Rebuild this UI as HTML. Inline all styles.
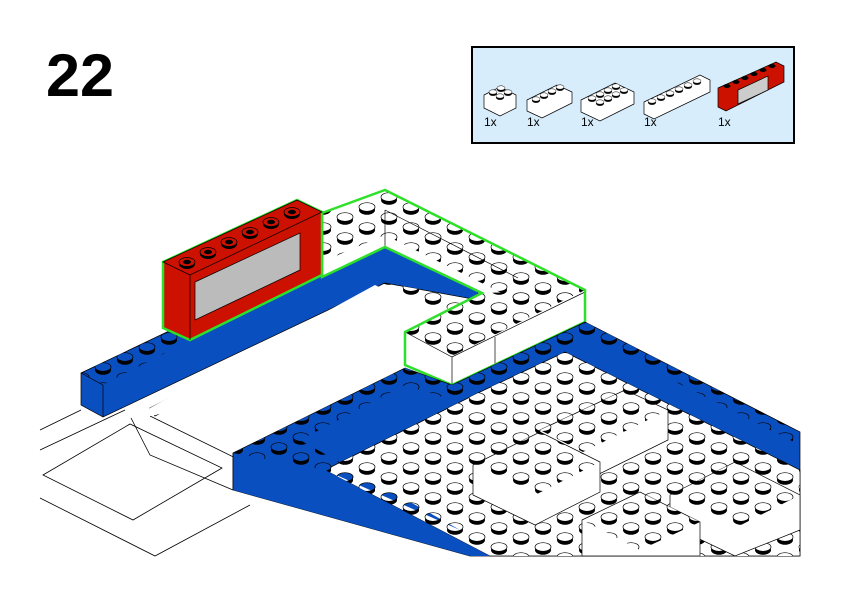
<!DOCTYPE html>
<html><head><style>
html,body{margin:0;padding:0;background:#fff;}
svg{display:block;}
</style></head><body>
<svg width="842" height="596" viewBox="0 0 842 596" xmlns="http://www.w3.org/2000/svg" font-family="Liberation Sans, sans-serif">
<defs>
<pattern id="sw" patternUnits="userSpaceOnUse" width="44" height="20" x="4" y="2">
  <g id="st"><ellipse cx="11" cy="8" rx="8" ry="4.8" fill="#000"/><ellipse cx="11" cy="5" rx="8" ry="4.3" fill="#fff" stroke="#000" stroke-width="0.7"/></g>
  <use href="#st" x="22" y="10"/><use href="#st" x="22" y="-10"/><use href="#st" x="-22" y="10"/><use href="#st" x="-22" y="-10"/>
</pattern>
<pattern id="sb" patternUnits="userSpaceOnUse" width="44" height="20" x="4" y="2">
  <g id="bt"><ellipse cx="11" cy="8" rx="8" ry="4.8" fill="#000"/><ellipse cx="11" cy="5" rx="8" ry="4.3" fill="#0a4fbf" stroke="#000" stroke-width="0.7"/></g>
  <use href="#bt" x="22" y="10"/><use href="#bt" x="22" y="-10"/><use href="#bt" x="-22" y="10"/><use href="#bt" x="-22" y="-10"/>
</pattern>
<g id="ms"><ellipse cx="0" cy="1.5" rx="4" ry="2.4" fill="#000"/><ellipse cx="0" cy="0" rx="4" ry="2.2" fill="#fff" stroke="#000" stroke-width="0.5"/></g>
<g id="rs"><ellipse cx="0" cy="2" rx="8" ry="5" fill="#000"/><ellipse cx="0" cy="0" rx="8" ry="4.5" fill="#cc1100" stroke="#000" stroke-width="0.7"/><ellipse cx="0" cy="0" rx="4" ry="2.2" fill="#000"/></g>
</defs>

<text x="46" y="96" font-size="60" font-weight="bold" textLength="68" lengthAdjust="spacingAndGlyphs">22</text>

<!-- parts box -->
<rect x="472" y="47" width="322" height="96" fill="#d8edfc" stroke="#000" stroke-width="2"/>
<g stroke="#000" stroke-width="0.7">
 <polygon points="484,95 500,87 516,95 516,108 500,116 484,108" fill="#fff"/>
 <polygon points="527,100 557,85 572,92 572,103 542,118 527,111" fill="#fff"/>
 <polygon points="581,100 615,83 634,92 634,104 600,121 581,112" fill="#fff"/>
 <polygon points="644,102 700,75 710,80 710,92 654,119 644,114" fill="#fff"/>
 <polygon points="718,88 776,62 784,66 784,82 726,111 718,107" fill="#cc1100"/>
 <polygon points="738,90 768,76 768,90 738,104" fill="#ccc"/>
</g>
<use href="#ms" x="493" y="92"/><use href="#ms" x="501" y="88"/><use href="#ms" x="500" y="96"/><use href="#ms" x="508" y="92"/>
<use href="#ms" x="536" y="99"/><use href="#ms" x="544" y="95"/><use href="#ms" x="552" y="91"/><use href="#ms" x="560" y="87"/>
<use href="#ms" x="592" y="98"/><use href="#ms" x="600" y="94"/><use href="#ms" x="608" y="90"/><use href="#ms" x="616" y="86"/>
<use href="#ms" x="600" y="102"/><use href="#ms" x="608" y="98"/><use href="#ms" x="616" y="94"/><use href="#ms" x="624" y="90"/>
<use href="#ms" x="652" y="101"/><use href="#ms" x="661" y="97"/><use href="#ms" x="670" y="93"/><use href="#ms" x="679" y="89"/><use href="#ms" x="688" y="85"/><use href="#ms" x="697" y="81"/>
<g fill="#000"><ellipse cx="727" cy="86" rx="3.5" ry="2"/><ellipse cx="736" cy="82" rx="3.5" ry="2"/><ellipse cx="745" cy="78" rx="3.5" ry="2"/><ellipse cx="754" cy="74" rx="3.5" ry="2"/><ellipse cx="763" cy="70" rx="3.5" ry="2"/><ellipse cx="772" cy="66" rx="3.5" ry="2"/></g>
<g font-size="12"><text x="484" y="126">1x</text><text x="527" y="126">1x</text><text x="581" y="126">1x</text><text x="644" y="126">1x</text><text x="718" y="126">1x</text></g>

<!-- floor lines -->
<g fill="none" stroke="#000" stroke-width="0.8">
 <polyline points="40,430 81,410"/>
 <polyline points="125,410 40,450"/>
 <polygon points="43,475 130,424 222,468 133,520" fill="#fff"/>
 <polyline points="40,498 155,556 250,505"/>
 <polyline points="131,418 150,455 233,490"/>
 <polygon points="150,408 380,292 385,300 155,416" fill="#fff"/>
 <polyline points="150,416 260,470"/>
</g>

<!-- blue back-left wall -->
<polygon points="81,373 385,228 478,272 478,300 385,283 103,417 81,405" fill="#0a4fbf" stroke="#000" stroke-width="0.7"/>
<polygon points="81,373 385,228 395,235 103,385" fill="url(#sb)"/>
<line x1="103" y1="385" x2="103" y2="417" stroke="#000" stroke-width="0.7"/>
<line x1="81" y1="373" x2="103" y2="385" stroke="#000" stroke-width="0.7"/>
<polygon points="375,285 405,300 405,365 150,416 150,408" fill="#fff"/>
<polygon points="378,282 470,298 440,312" fill="url(#sw)"/>

<!-- white L wall -->
<polygon points="322,213 385,190 585,290 585,322 452,385 405,365 405,332 482,293 385,247 322,277" fill="#fff"/>
<polygon points="322,213 385,190 585,290 540,312 385,235 322,262" fill="url(#sw)"/>
<polygon points="405,332 482,293 585,290 540,312 450,357" fill="url(#sw)"/>
<g stroke="#000" stroke-width="0.7" fill="none">
 <polyline points="385,210 385,247"/>
 <polyline points="385,210 518,278"/>
 <polyline points="405,332 452,357 585,292"/>
 <line x1="452" y1="357" x2="452" y2="385"/>
 <line x1="495" y1="337" x2="495" y2="365"/>
</g>
<polygon points="322,213 385,190 585,290 585,322 452,385 405,365 405,332 482,293 385,247 322,277" fill="none" stroke="#2ee02a" stroke-width="2.5"/>

<!-- red window -->
<polygon points="163,262 297,200 322,212 322,275 190,340 163,328" fill="#cc1100" stroke="#2ee02a" stroke-width="2.5"/>
<polygon points="163,262 297,200 322,212 190,275" fill="#cc1100" stroke="#000" stroke-width="0.7"/>
<polygon points="195,282 300,233 300,270 195,320" fill="#bbb" stroke="#000" stroke-width="0.7"/>
<use href="#rs" x="187" y="262"/><use href="#rs" x="208" y="252"/><use href="#rs" x="229" y="242"/><use href="#rs" x="250" y="232"/><use href="#rs" x="271" y="222"/><use href="#rs" x="292" y="212"/>
<line x1="190" y1="275" x2="190" y2="340" stroke="#000" stroke-width="0.7"/>

<!-- lower right blue frame -->
<polygon points="233,453 405,368 452,385 585,322 800,432 800,556 470,556 233,490" fill="#0a4fbf" stroke="#000" stroke-width="0.7"/>
<polygon points="233,453 405,368 452,385 585,322 800,432 800,445 585,336 452,400 405,385 300,440" fill="url(#sb)"/>
<polygon points="325,470 480,392 565,352 800,470 800,556 490,556" fill="#fff" stroke="#000" stroke-width="0.7"/>
<polygon points="325,470 480,392 565,352 800,470 800,556 490,556" fill="url(#sw)"/>
<polygon points="233,453 325,470 490,556 470,556 233,490" fill="#0a4fbf"/>
<polygon points="233,453 300,440 460,530 325,470" fill="url(#sb)"/>
<line x1="233" y1="453" x2="233" y2="490" stroke="#000" stroke-width="0.7"/>
<g stroke="#000" stroke-width="0.7" fill="#fff">
 <polygon points="540,430 625,390 668,410 668,440 583,482 540,460"/>
 <polygon points="473,465 540,432 600,462 600,492 535,525 473,495"/>
 <polygon points="670,495 735,462 800,495 800,530 735,556 670,525"/>
 <polygon points="582,520 640,492 700,522 700,556 582,556"/>
</g>
<polygon points="540,430 625,390 668,410 583,452" fill="url(#sw)"/>
<polygon points="473,465 540,432 600,462 535,495" fill="url(#sw)"/>
<polygon points="670,495 735,462 800,495 735,528" fill="url(#sw)"/>
<polygon points="582,520 640,492 700,522 640,550" fill="url(#sw)"/>
</svg>
</body></html>
